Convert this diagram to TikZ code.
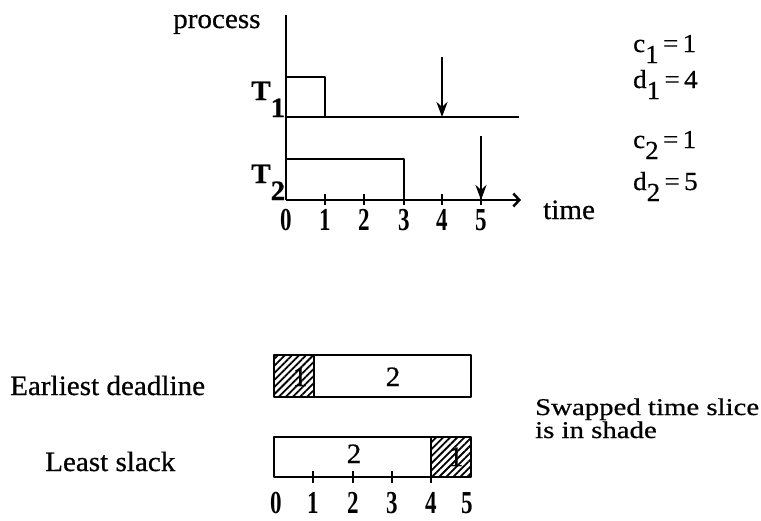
\documentclass[tikz,border=0pt]{standalone}
\usepackage{fontspec}
\setmainfont{Liberation Serif}[FakeStretch=1.04,FakeBold=0.6]
\newfontfamily\widefont{Liberation Serif}[FakeStretch=1.2,FakeBold=0.6]
\newfontfamily\digitfont{Liberation Serif Bold}[FakeStretch=0.72]
\usetikzlibrary{arrows.meta,patterns.meta}

\newcommand\lowsub[2][-11pt]{\raisebox{#1}{#2}}

\tikzset{
  ln/.style={line width=2.5pt, line join=round},
  deadline/.style={ln, -{Stealth[length=15pt,width=11pt]}},
  txt/.style={inner sep=0pt, anchor=base west, font=\fontsize{28}{30}\selectfont},
  wide/.style={inner sep=0pt, anchor=base west, font=\widefont\fontsize{24}{26}\selectfont},
  param/.style={inner sep=0pt, anchor=base west, font=\fontsize{26}{28}\selectfont},
  tasklbl/.style={inner sep=0pt, anchor=base west, font=\bfseries\fontsize{28}{30}\selectfont},
  ticklbl/.style={inner sep=0pt, anchor=base, font=\digitfont\fontsize{32}{32}\selectfont},
  slicelbl/.style={inner sep=0pt, anchor=base, font=\fontsize{28}{30}\selectfont},
  hatch/.style={pattern={Lines[angle=45,distance=5pt,line width=1.8pt]}},
}

\begin{document}
\begin{tikzpicture}[x=1pt,y=-1pt]
\useasboundingbox (0,0) rectangle (761,520);

% ---------- task timeline ----------
\coordinate (org)   at (286,200);
\coordinate (ytop)  at (286,15);
\coordinate (xend)  at (521,200);
\coordinate (b1s)   at (286,117);
\coordinate (b1e)   at (519,117);

\draw[ln] (ytop) -- (org);
\draw[ln, -{Straight Barb[length=6pt,width=13pt,line width=2.5pt]}] (org) -- (xend);
\draw[ln] (b1s) -- (b1e);

% execution requests
\draw[ln] (286,77) -- (325,77) -- (325,117);
\draw[ln] (286,159) -- (404,159) -- (404,200);

% deadlines
\coordinate (dl1a) at (442,57);  \coordinate (dl1b) at (442,117);
\coordinate (dl2a) at (481,136); \coordinate (dl2b) at (481,200);
\draw[deadline] (dl1a) -- (dl1b);
\draw[deadline] (dl2a) -- (dl2b);

% ticks and labels on the time axis
\foreach \i/\x in {1/325,2/364,3/404,4/442,5/481}
  \draw[ln] (\x,194) -- (\x,205);
\foreach \i/\x in {0/286,1/325,2/364,3/404,4/442,5/481}
  \node[ticklbl] (tl\i) at (\x,230) {\i};

\node[txt] (proc) at (173,28) {process};
\node[txt] (time) at (543,219) {time};
\node[tasklbl] (T1) at (251,100) {T\lowsub[-17pt]{1}};
\node[tasklbl] (T2) at (251,183) {T\lowsub[-17pt]{2}};

% task parameters
\node[param] (c1) at (633,52)  {c\lowsub{1}\,=\,1};
\node[param] (d1) at (633,88)  {d\lowsub{1}\,=\,4};
\node[param] (c2) at (633,148) {c\lowsub{2}\,=\,1};
\node[param] (d2) at (633,190) {d\lowsub{2}\,=\,5};

% ---------- schedules ----------
% earliest deadline first
\fill[hatch] (274,355) rectangle (314,397);
\node[slicelbl] (ed1) at (300,386) {1};
\draw[ln] (274,355) rectangle (471,397);
\draw[ln] (314,355) -- (314,397);
\node[slicelbl] (ed2) at (393,386) {2};

% least slack first
\fill[hatch] (431,437) rectangle (471,477);
\node[slicelbl] (ls1) at (456,466) {1};
\draw[ln] (274,437) rectangle (471,477);
\draw[ln] (431,437) -- (431,477);
\node[slicelbl] (ls2) at (354,463) {2};

\foreach \x in {313,353,392,431}
  \draw[ln] (\x,471) -- (\x,483);
\foreach \i/\x in {0/276,1/313,2/353,3/392,4/431,5/467}
  \node[ticklbl] (bl\i) at (\x,513) {\i};

\node[txt] (edf) at (10,395) {Earliest deadline};
\node[txt] (lsf) at (45,471) {Least slack};
\node[wide] (note1) at (535,415) {Swapped time slice};
\node[wide] (note2) at (535,438) {is in shade};
\end{tikzpicture}
\end{document}
